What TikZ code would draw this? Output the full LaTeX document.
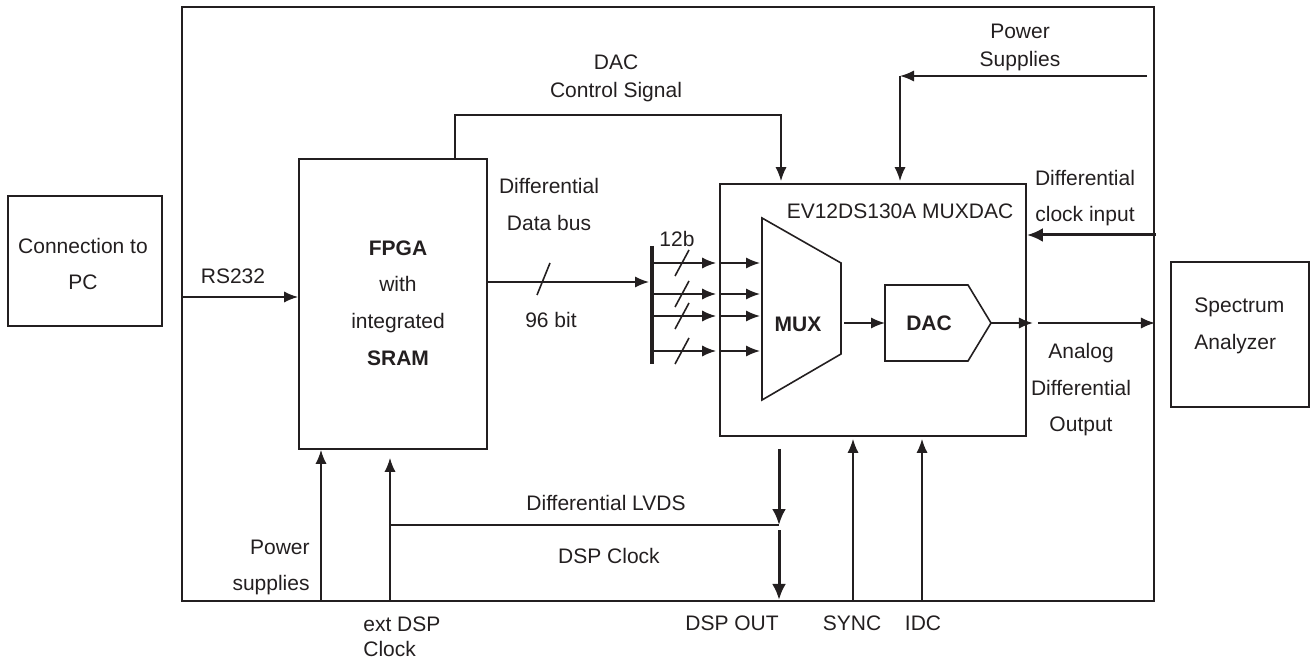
\documentclass[tikz,border=0pt]{standalone}
\usepackage{fontspec}
\setmainfont{Liberation Sans}
\usetikzlibrary{arrows.meta}
\definecolor{ink}{HTML}{231F20}
\begin{document}
\begin{tikzpicture}[x=0.5pt,y=-0.5pt,
  every node/.style={font=\fontsize{10.5}{12}\selectfont, text=ink},
  lbl/.style={inner sep=0pt, anchor=base},
  lblL/.style={inner sep=0pt, anchor=base west},
  lblR/.style={inner sep=0pt, anchor=base east},
  box/.style={draw=ink, line width=0.9pt, inner sep=0pt},
  thinln/.style={draw=ink, line width=0.8pt},
  arr/.style={thinln, -{Latex[length=7pt,width=5.6pt]}},
  tarr/.style={draw=ink, line width=1.5pt, -{Latex[length=8pt,width=7pt]}},
]
\useasboundingbox (0,0) rectangle (1311,662);

% boxes
\node[box, minimum width=486pt, minimum height=297pt] (outer) at (668,304) {};
\node[box, line width=0.6pt, minimum width=77pt, minimum height=65pt] (pc) at (85,261) {};
\node[box, minimum width=94pt, minimum height=145pt] (fpga) at (393,304) {};
\node[box, minimum width=153pt, minimum height=126pt] (mdac) at (873,310) {};
\node[box, line width=0.6pt, minimum width=69pt, minimum height=72.5pt] (sa) at (1240,334.5) {};

% MUX trapezoid and DAC pentagon
\coordinate (muxTL) at (762,218);
\coordinate (muxTR) at (841,263);
\coordinate (muxBR) at (841,354);
\coordinate (muxBL) at (762,400);
\draw[thinln] (muxTL) -- (muxTR) -- (muxBR) -- (muxBL) -- cycle;
\coordinate (dacL) at (885,323);
\coordinate (dacTip) at (991,323);
\draw[thinln] (885,285) -- (968,285) -- (dacTip) -- (968,361) -- (885,361) -- cycle;

% texts
\node[lbl] (t1) at (83,254) {Connection to};
\node[lbl] (t2) at (83,290) {PC};
\node[lbl] (t3) at (233,284) {RS232};
\node[lbl, font=\fontsize{10.5}{12}\selectfont\bfseries] (t4) at (398,256) {FPGA};
\node[lbl] (t5) at (398,292) {with};
\node[lbl] (t6) at (398,329) {integrated};
\node[lbl, font=\fontsize{10.5}{12}\selectfont\bfseries] (t7) at (398,366) {SRAM};
\node[lbl] (t8) at (549,194) {Differential};
\node[lbl] (t9) at (549,231) {Data bus};
\node[lbl] (t10) at (551,328) {96 bit};
\node[lbl] (t11) at (616,70) {DAC};
\node[lbl] (t12) at (616,98) {Control Signal};
\node[lbl] (t13) at (1020,39) {Power};
\node[lbl] (t14) at (1020,67) {Supplies};
\node[lbl] (t15) at (900,219) {EV12DS130A MUXDAC};
\node[lbl] (t16) at (677,247) {12b};
\node[lbl, font=\fontsize{10.5}{12}\selectfont\bfseries] (t17) at (798,332) {MUX};
\node[lbl, font=\fontsize{10.5}{12}\selectfont\bfseries] (t18) at (929,331) {DAC};
\node[lbl] (t19) at (1085,186) {Differential};
\node[lbl] (t20) at (1085,222) {clock input};
\node[lbl] (t21) at (1081,359) {Analog};
\node[lbl] (t22) at (1081,395) {Differential};
\node[lbl] (t23) at (1081,431) {Output};
\node[lblL] (t24) at (1194,313) {Spectrum};
\node[lblL] (t25) at (1194,350) {Analyzer};
\node[lblR] (t26) at (310,554) {Power};
\node[lblR] (t27) at (310,590) {supplies};
\node[lbl] (t28) at (606,510) {Differential LVDS};
\node[lbl] (t29) at (609,563) {DSP Clock};
\node[lblL] (t30) at (363,631) {ext DSP};
\node[lblL] (t31) at (363,656) {Clock};
\node[lbl] (t32) at (732,630) {DSP OUT};
\node[lbl] (t33) at (852,630) {SYNC};
\node[lbl] (t34) at (923,630) {IDC};

% RS232
\coordinate (rs) at (182,297);
\draw[arr] (rs) -- (rs -| fpga.west);

% data bus
\coordinate (busT) at (652,246);
\coordinate (busB) at (652,364);
\coordinate (db) at (487,282);
\draw[arr, shorten >=1.5pt] (fpga.east |- db) -- (busT |- db);
\draw[draw=ink, line width=2pt] (busT) -- (busB);
\draw[thinln] (550,263) -- (537,295);
\foreach \yy in {263,294,316,351}{
  \draw[arr, shorten >=1.5pt] (busT |- 0,\yy) -- (mdac.west |- 0,\yy);
  \draw[arr, shorten >=1pt] (mdac.west |- 0,\yy) -- (muxTL |- 0,\yy);
  \draw[thinln] (689,{\yy-13}) -- (675,{\yy+13});
}

% MUX -> DAC -> out
\draw[arr] (muxTR |- dacL) ++(3,0) -- (dacL);
\draw[arr] (dacTip) -- ([xshift=3pt]mdac.east |- dacTip);
\draw[arr] ([xshift=5.5pt]mdac.east |- dacTip) -- (outer.east |- dacTip);

% DAC control signal
\coordinate (dcs) at (455,115);
\coordinate (dcsR) at (781,115);
\draw[arr, shorten >=1pt] (fpga.north -| dcs) -- (dcs) -- (dcsR) -- (mdac.north -| dcsR);

% power supplies (top)
\coordinate (psR) at (1147,76);
\coordinate (psL) at (900,76);
\draw[arr] (psR) -- (psL);
\draw[arr, shorten >=1pt] (psL) -- (mdac.north -| psL);

% differential clock input
\coordinate (ck) at (1156,235);
\draw[tarr] (ck) -- (mdac.east |- ck);

% bottom inputs
\coordinate (pwrB) at (321,601);
\draw[arr] (pwrB) -- (pwrB |- fpga.south);
\coordinate (extB) at (390,601);
\draw[arr] (extB) -- ([yshift=-4pt]extB |- fpga.south);
\coordinate (lv) at (390,525);
\coordinate (lvR) at (779,525);
\draw[thinln] (lv) -- (lvR);
\draw[tarr] ([yshift=-6pt]mdac.south -| lvR) -- (lvR);
\draw[tarr] ([yshift=-2.5pt]lvR) -- ([yshift=1pt]lvR |- outer.south);
\coordinate (sy) at (853,601);
\draw[arr] (sy) -- ([yshift=-1pt]sy |- mdac.south);
\coordinate (idc) at (922,601);
\draw[arr] (idc) -- ([yshift=-1pt]idc |- mdac.south);
\end{tikzpicture}
\end{document}
